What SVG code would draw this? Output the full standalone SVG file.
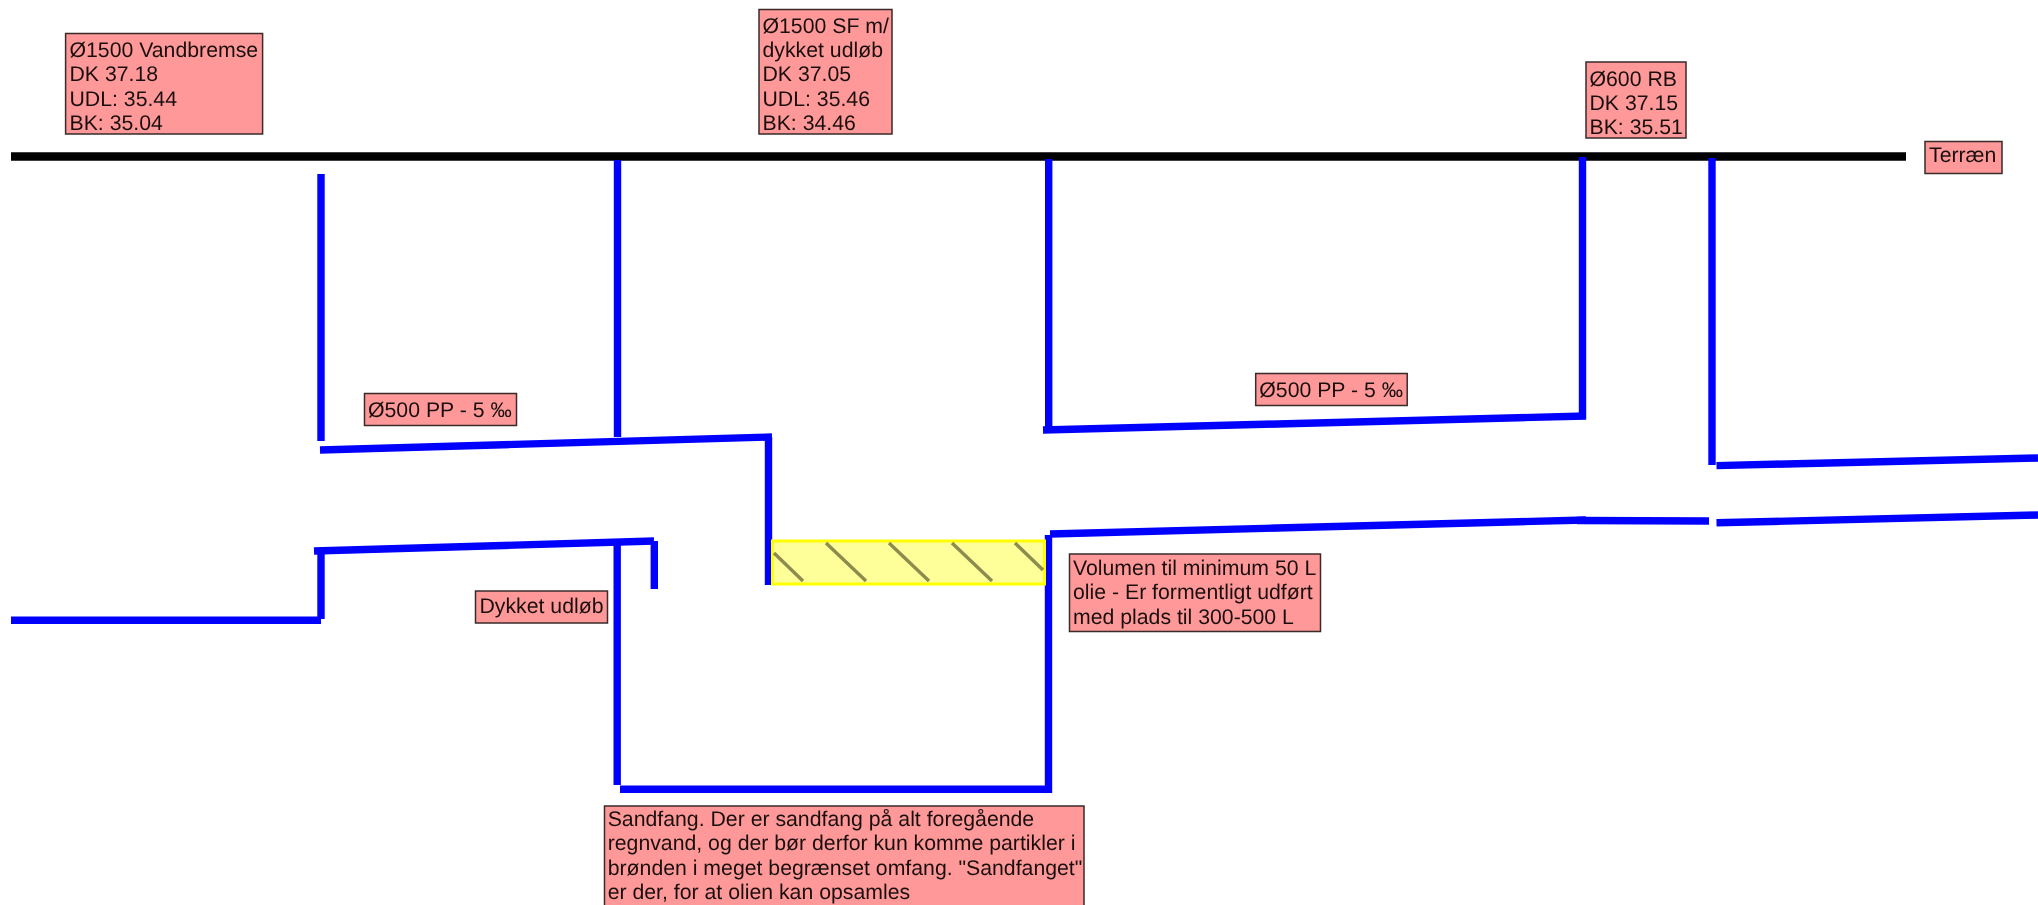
<svg xmlns="http://www.w3.org/2000/svg" width="2038" height="905" viewBox="0 0 2038 905">
<style>
.box{fill:#ff9999;stroke:#3a2a2a;stroke-width:1.5}
.t{font-family:"Liberation Sans",Arial,Helvetica,sans-serif;font-size:21.25px;fill:#1a1010;text-rendering:geometricPrecision}
.p{fill:none;stroke:#0000ff;stroke-width:7.4;stroke-linecap:butt}
.g{fill:none;stroke:#000;stroke-width:8.4}
.h{fill:none;stroke:#8c8c50;stroke-width:3.4}
</style>
<defs><filter id="soft" x="0" y="0" width="100%" height="100%" filterUnits="objectBoundingBox"><feGaussianBlur stdDeviation="0.55"/></filter></defs>
<rect width="2038" height="905" fill="#fff"/>
<g filter="url(#soft)">
<rect width="2038" height="905" fill="#fff"/>
<g id="connectors">
<line class="g" x1="11" y1="156.5" x2="1906" y2="156.5"/>
<line class="p" x1="321" y1="174" x2="321" y2="441"/>
<line class="p" x1="617.5" y1="160" x2="617.5" y2="437"/>
<line class="p" x1="1048.7" y1="159" x2="1048.7" y2="433"/>
<line class="p" x1="1582.5" y1="157" x2="1582.5" y2="419"/>
<line class="p" x1="1712" y1="158" x2="1712" y2="465"/>
<line class="p" x1="320" y1="450" x2="772" y2="437"/>
<line class="p" x1="768.5" y1="437" x2="768.5" y2="585"/>
<line class="p" x1="1043" y1="430" x2="1586" y2="416"/>
<line class="p" x1="1716.5" y1="465.6" x2="2038" y2="458"/>
<line class="p" x1="314" y1="551" x2="654" y2="541"/>
<line class="p" x1="321" y1="551" x2="321" y2="619"/>
<line class="p" x1="11" y1="620.3" x2="321" y2="620.3"/>
<line class="p" x1="617.2" y1="541" x2="617.2" y2="785"/>
<line class="p" x1="654.3" y1="541" x2="654.3" y2="589"/>
<line class="p" x1="620" y1="789.3" x2="1050" y2="789.3"/>
<line class="p" x1="1048.5" y1="535" x2="1048.5" y2="793"/>
<line class="p" x1="1050" y1="534" x2="1586" y2="520"/>
<line class="p" x1="1577" y1="520.5" x2="1709" y2="521"/>
<line class="p" x1="1716.5" y1="522.8" x2="2038" y2="515"/>
</g>
<g id="oil-layer">
<rect x="772.5" y="541" width="272" height="43" fill="#ffff99" stroke="#ffff00" stroke-width="3"/>
<line class="h" x1="774" y1="553" x2="803" y2="581"/>
<line class="h" x1="826" y1="543" x2="866" y2="581"/>
<line class="h" x1="889" y1="543" x2="929" y2="581"/>
<line class="h" x1="952" y1="543" x2="992" y2="581"/>
<line class="h" x1="1015" y1="543" x2="1043" y2="570"/>
</g>
<g id="n1"><rect class="box" x="65.6" y="33.5" width="197" height="100.5"/>
<text class="t" x="69.5" y="57">Ø1500 Vandbremse</text><text class="t" x="69.5" y="81.3">DK 37.18</text><text class="t" x="69.5" y="105.5">UDL: 35.44</text><text class="t" x="69.5" y="129.7">BK: 35.04</text></g>
<g id="n2"><rect class="box" x="759" y="9.5" width="133" height="124.5"/>
<text class="t" x="762.5" y="33">Ø1500 SF m/</text><text class="t" x="762.5" y="57">dykket udløb</text><text class="t" x="762.5" y="81.3">DK 37.05</text><text class="t" x="762.5" y="105.5">UDL: 35.46</text><text class="t" x="762.5" y="129.7">BK: 34.46</text></g>
<g id="n3"><rect class="box" x="1586" y="62" width="100" height="76"/>
<text class="t" x="1589.5" y="85.5">Ø600 RB</text><text class="t" x="1589.5" y="109.7">DK 37.15</text><text class="t" x="1589.5" y="133.7">BK: 35.51</text></g>
<g id="n4"><rect class="box" x="1925" y="141.5" width="77" height="32"/>
<text class="t" x="1929" y="162">Terræn</text></g>
<g id="n5"><rect class="box" x="364.5" y="393.5" width="152" height="32"/>
<text class="t" x="368" y="417">Ø500 PP - 5 ‰</text></g>
<g id="n6"><rect class="box" x="1255.7" y="373.5" width="151.5" height="32"/>
<text class="t" x="1259.3" y="397">Ø500 PP - 5 ‰</text></g>
<g id="n7"><rect class="box" x="475.5" y="591" width="132" height="32"/>
<text class="t" x="479.5" y="612.7">Dykket udløb</text></g>
<g id="n8"><rect class="box" x="1069.5" y="554" width="251" height="77.5"/>
<text class="t" x="1073" y="574.7">Volumen til minimum 50 L</text><text class="t" x="1073" y="599">olie - Er formentligt udført</text><text class="t" x="1073" y="623.5">med plads til 300-500 L</text></g>
<g id="n9"><rect class="box" x="604.5" y="806" width="479.5" height="105"/>
<text class="t" x="607.7" y="826">Sandfang. Der er sandfang på alt foregående</text><text class="t" x="607.7" y="850.3">regnvand, og der bør derfor kun komme partikler i</text><text class="t" x="607.7" y="875">brønden i meget begrænset omfang. "Sandfanget"</text><text class="t" x="607.7" y="899">er der, for at olien kan opsamles</text></g>
</g>
</svg>
